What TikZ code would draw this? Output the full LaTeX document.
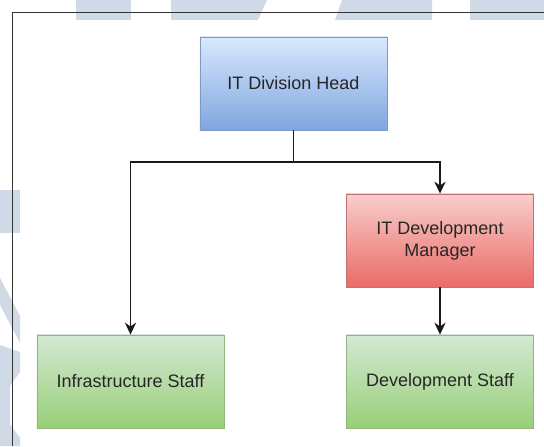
\documentclass[tikz,border=0pt]{standalone}
\usepackage{fontspec}
\setmainfont{Liberation Sans}
\usetikzlibrary{positioning, arrows.meta}

\definecolor{markcol}{RGB}{208,218,230}
\definecolor{headtop}{HTML}{DAE8FC}
\definecolor{headbot}{HTML}{7EA6E0}
\definecolor{headline}{HTML}{7F99C0}
\definecolor{mgrtop}{HTML}{F8CECC}
\definecolor{mgrbot}{HTML}{EA6B66}
\definecolor{mgrline}{HTML}{C07070}
\definecolor{stafftop}{HTML}{D5E8D4}
\definecolor{staffbot}{HTML}{97D077}
\definecolor{staffline}{HTML}{92B47E}

\begin{document}
\begin{tikzpicture}[x=0.025cm, y=-0.025cm,
    box/.style={draw, line width=0.6pt, minimum width=4.675cm, minimum height=2.325cm,
      inner sep=0pt, align=center, text=black!85, font=\fontsize{12.8}{15.5}\selectfont},
    headbox/.style={box, draw=headline, top color=headtop, bottom color=headbot},
    mgrbox/.style={box, draw=mgrline, top color=mgrtop, bottom color=mgrbot},
    staffbox/.style={box, draw=staffline, top color=stafftop, bottom color=staffbot},
    link/.style={line width=0.9pt, black!90, -{Stealth[length=8.5pt, width=8pt]}}]
      \useasboundingbox (0,0) rectangle (544,446);
      \fill[markcol] (76,0) rectangle (131,20);
      \fill[markcol] (171,0) -- (267,0) -- (258,20) -- (171,20) -- cycle;
      \fill[markcol] (342,0) -- (432,0) -- (432,20) -- (335,20) -- cycle;
      \fill[markcol] (470,0) rectangle (544,20);
      \fill[markcol] (0,190) rectangle (20,233);
      \fill[markcol] (0,278) -- (20,316) -- (20,343) -- (0,305) -- cycle;
      \fill[markcol] (0,345) -- (20,352) -- (20,372) -- (10,386) -- (10,424)
        -- (20,438) -- (20,446) -- (0,446) -- cycle;
      \draw[line width=0.7pt, black!80] (544,12) -- (12,12) -- (12,446);
      \node[headbox] (head) at (293.5,83.5) {IT Division Head};
      \node[mgrbox] (mgr) at (440,240.5) {IT Development\\Manager};
      \node[staffbox] (infra) at (130.5,381.5) {Infrastructure Staff};
      \node[staffbox] (dev) at (440,381.5) {Development Staff};
      \coordinate (split) at (293.5,162);
      \draw[line width=0.9pt, black!90] (head.south) -- (split);
      \draw[link] (split) -| (infra.north);
      \draw[link] (split) -| (mgr.north);
      \draw[link] (mgr.south) -- (dev.north);
    \end{tikzpicture}
\end{document}
